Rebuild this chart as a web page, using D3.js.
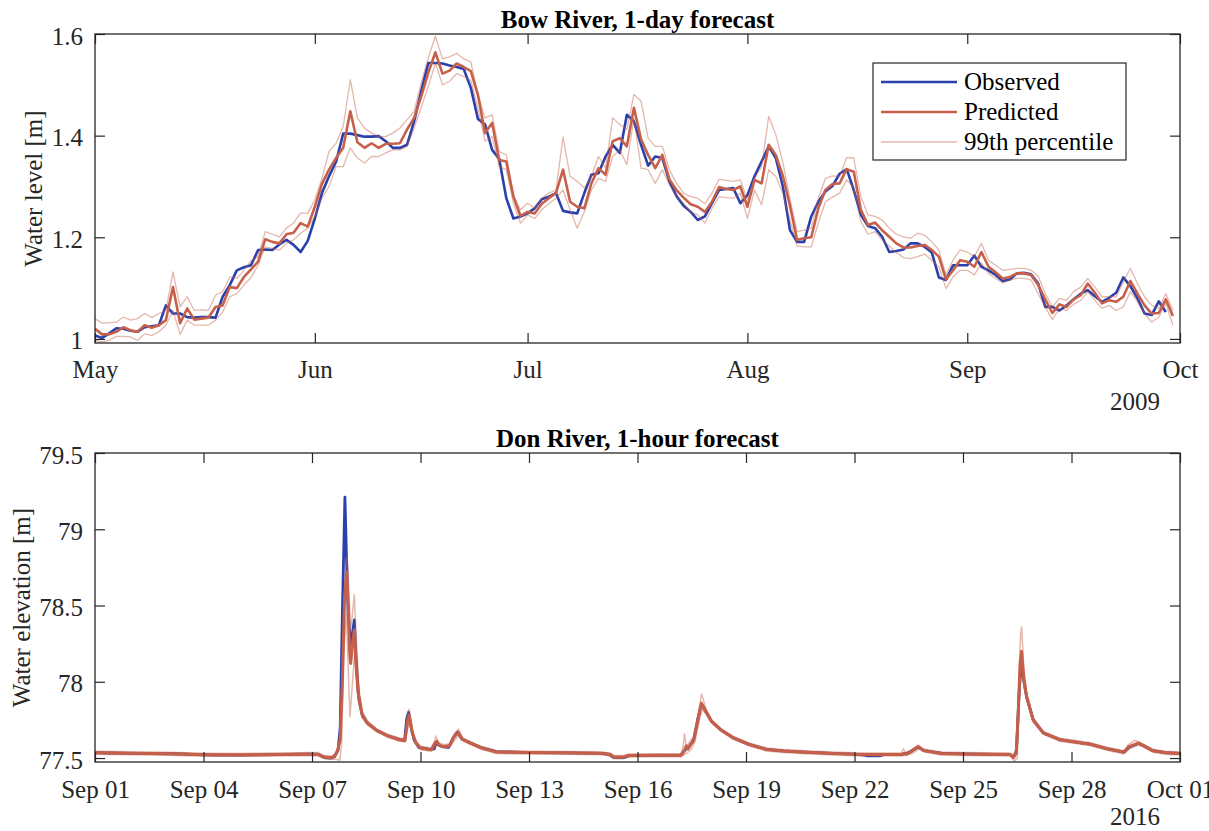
<!DOCTYPE html>
<html>
<head>
<meta charset="utf-8">
<script src="https://cdn.jsdelivr.net/npm/d3@7"></script>
<style>
  html, body { margin: 0; padding: 0; background: #ffffff; }
  svg { display: block; }
  text { font-family: "Liberation Serif", "Times New Roman", serif; }
</style>
</head>
<body>
<svg id="chart" width="1209" height="831"></svg>
<script>
// ---------- Bow River: daily water level, from 1 May 2009 ----------
const bowStart = Date.UTC(2009, 4, 1);
const bowObserved = [
  1.007, 1.002, 1.011, 1.021, 1.020, 1.016, 1.014, 1.023, 1.025, 1.027,
  1.066, 1.050, 1.050, 1.043, 1.042, 1.043, 1.043, 1.042, 1.083, 1.106,
  1.135, 1.141, 1.145, 1.175, 1.176, 1.175, 1.186, 1.195, 1.185, 1.171,
  1.193, 1.237, 1.287, 1.320, 1.349, 1.404, 1.404, 1.401, 1.398, 1.398,
  1.399, 1.389, 1.376, 1.376, 1.382, 1.428, 1.488, 1.543, 1.543, 1.542,
  1.538, 1.535, 1.531, 1.494, 1.433, 1.422, 1.372, 1.354, 1.277, 1.237,
  1.241, 1.247, 1.257, 1.275, 1.280, 1.287, 1.252, 1.249, 1.247, 1.287,
  1.323, 1.326, 1.359, 1.382, 1.366, 1.441, 1.428, 1.382, 1.341, 1.359,
  1.356, 1.310, 1.281, 1.262, 1.250, 1.234, 1.241, 1.267, 1.293, 1.295,
  1.297, 1.267, 1.283, 1.320, 1.349, 1.379, 1.356, 1.300, 1.214, 1.191,
  1.191, 1.241, 1.270, 1.290, 1.301, 1.325, 1.334, 1.293, 1.244, 1.222,
  1.218, 1.201, 1.171, 1.173, 1.176, 1.188, 1.188, 1.181, 1.170, 1.121,
  1.116, 1.145, 1.145, 1.145, 1.164, 1.142, 1.135, 1.126, 1.114, 1.117,
  1.129, 1.130, 1.127, 1.109, 1.063, 1.063, 1.056, 1.066, 1.078, 1.089,
  1.096, 1.084, 1.073, 1.081, 1.091, 1.121, 1.104, 1.080, 1.050, 1.047,
  1.074, 1.053
];
const bowPredicted = [
  1.020, 1.009, 1.009, 1.014, 1.023, 1.017, 1.014, 1.027, 1.022, 1.027,
  1.037, 1.102, 1.031, 1.060, 1.038, 1.040, 1.042, 1.063, 1.066, 1.102,
  1.100, 1.122, 1.137, 1.152, 1.196, 1.191, 1.188, 1.206, 1.209, 1.228,
  1.221, 1.260, 1.305, 1.333, 1.356, 1.376, 1.448, 1.387, 1.376, 1.385,
  1.376, 1.384, 1.384, 1.385, 1.412, 1.435, 1.477, 1.524, 1.564, 1.522,
  1.528, 1.542, 1.535, 1.527, 1.480, 1.405, 1.425, 1.352, 1.349, 1.280,
  1.242, 1.250, 1.247, 1.266, 1.277, 1.287, 1.333, 1.270, 1.260, 1.257,
  1.306, 1.336, 1.323, 1.389, 1.395, 1.379, 1.455, 1.393, 1.362, 1.336,
  1.362, 1.314, 1.293, 1.278, 1.265, 1.260, 1.250, 1.270, 1.299, 1.295,
  1.293, 1.300, 1.260, 1.313, 1.306, 1.382, 1.362, 1.321, 1.262, 1.195,
  1.198, 1.200, 1.257, 1.293, 1.305, 1.306, 1.334, 1.329, 1.254, 1.224,
  1.229, 1.214, 1.201, 1.188, 1.180, 1.180, 1.183, 1.185, 1.175, 1.162,
  1.117, 1.135, 1.155, 1.152, 1.142, 1.171, 1.142, 1.131, 1.119, 1.122,
  1.129, 1.129, 1.126, 1.106, 1.078, 1.051, 1.068, 1.063, 1.078, 1.086,
  1.109, 1.091, 1.070, 1.076, 1.073, 1.083, 1.114, 1.089, 1.066, 1.050,
  1.051, 1.078, 1.045
];
const bowUpper = [
  1.040, 1.031, 1.032, 1.033, 1.043, 1.037, 1.040, 1.050, 1.042, 1.050,
  1.056, 1.132, 1.063, 1.083, 1.056, 1.057, 1.056, 1.086, 1.093, 1.122,
  1.119, 1.135, 1.154, 1.162, 1.211, 1.206, 1.201, 1.218, 1.228, 1.248,
  1.247, 1.274, 1.316, 1.369, 1.385, 1.418, 1.510, 1.435, 1.415, 1.405,
  1.398, 1.398, 1.405, 1.415, 1.431, 1.448, 1.504, 1.553, 1.596, 1.551,
  1.555, 1.562, 1.551, 1.545, 1.481, 1.435, 1.441, 1.369, 1.362, 1.283,
  1.254, 1.267, 1.257, 1.277, 1.287, 1.293, 1.397, 1.320, 1.310, 1.297,
  1.320, 1.359, 1.336, 1.435, 1.422, 1.412, 1.481, 1.468, 1.395, 1.379,
  1.379, 1.333, 1.306, 1.287, 1.280, 1.277, 1.266, 1.287, 1.314, 1.312,
  1.310, 1.313, 1.274, 1.316, 1.339, 1.438, 1.402, 1.347, 1.275, 1.211,
  1.214, 1.218, 1.277, 1.316, 1.321, 1.320, 1.357, 1.356, 1.280, 1.244,
  1.241, 1.234, 1.218, 1.206, 1.201, 1.198, 1.208, 1.204, 1.191, 1.175,
  1.126, 1.155, 1.175, 1.171, 1.162, 1.188, 1.155, 1.145, 1.135, 1.137,
  1.139, 1.139, 1.135, 1.124, 1.089, 1.063, 1.080, 1.076, 1.093, 1.102,
  1.119, 1.102, 1.083, 1.083, 1.083, 1.112, 1.139, 1.109, 1.083, 1.066,
  1.060, 1.089, 1.056
];
const bowLower = [
  0.997, 0.994, 0.997, 1.005, 1.005, 1.004, 0.997, 1.010, 1.007, 1.014,
  1.027, 1.056, 1.009, 1.037, 1.027, 1.027, 1.027, 1.037, 1.053, 1.083,
  1.089, 1.106, 1.121, 1.145, 1.181, 1.178, 1.175, 1.188, 1.195, 1.208,
  1.218, 1.241, 1.277, 1.300, 1.339, 1.339, 1.376, 1.356, 1.346, 1.359,
  1.359, 1.366, 1.372, 1.372, 1.379, 1.415, 1.456, 1.497, 1.543, 1.500,
  1.507, 1.522, 1.516, 1.509, 1.453, 1.389, 1.398, 1.339, 1.333, 1.267,
  1.228, 1.244, 1.237, 1.254, 1.266, 1.277, 1.293, 1.254, 1.218, 1.250,
  1.293, 1.316, 1.310, 1.359, 1.372, 1.343, 1.435, 1.336, 1.333, 1.306,
  1.333, 1.303, 1.280, 1.267, 1.250, 1.244, 1.228, 1.257, 1.280, 1.278,
  1.277, 1.287, 1.237, 1.293, 1.264, 1.333, 1.320, 1.287, 1.234, 1.183,
  1.181, 1.181, 1.228, 1.270, 1.279, 1.287, 1.313, 1.297, 1.231, 1.206,
  1.211, 1.195, 1.183, 1.170, 1.160, 1.158, 1.162, 1.167, 1.155, 1.142,
  1.099, 1.122, 1.135, 1.135, 1.126, 1.149, 1.129, 1.119, 1.110, 1.116,
  1.119, 1.119, 1.116, 1.089, 1.063, 1.038, 1.060, 1.056, 1.068, 1.076,
  1.093, 1.076, 1.060, 1.066, 1.056, 1.063, 1.093, 1.073, 1.050, 1.033,
  1.043, 1.070, 1.027
];
const bowYTicks = [1, 1.2, 1.4, 1.6];
const bowXTicks = [Date.UTC(2009,4,1), Date.UTC(2009,5,1), Date.UTC(2009,6,1),
                   Date.UTC(2009,7,1), Date.UTC(2009,8,1), Date.UTC(2009,9,1)];

// ---------- Don River: hourly water elevation, September 2016 ----------
// [days since 1 Sep 2016 00:00, elevation in m]
const donStart = Date.UTC(2016, 8, 1);
const donObserved = [
  [0,77.535],[0.4,77.533],[1,77.531],[1.6,77.529],[2.2,77.528],[2.7,77.524],[3.3,77.52],[4,77.519],
  [5,77.522],[5.7,77.525],[6.15,77.526],[6.25,77.515],[6.35,77.503],[6.5,77.5],[6.62,77.508],
  [6.72,77.55],[6.78,77.7],[6.84,78.45],[6.91,79.21],[6.95,78.85],[7.0,78.45],[7.07,78.24],
  [7.12,78.32],[7.17,78.405],[7.22,78.15],[7.28,77.92],[7.38,77.79],[7.52,77.73],[7.8,77.68],
  [8.1,77.645],[8.45,77.62],[8.56,77.615],[8.62,77.76],[8.67,77.80],[8.74,77.7],[8.82,77.62],
  [8.95,77.57],[9.25,77.556],[9.38,77.56],[9.43,77.6],[9.5,77.585],[9.6,77.575],[9.78,77.57],
  [9.9,77.63],[10.03,77.67],[10.14,77.625],[10.4,77.597],[10.7,77.566],[11.1,77.542],[12,77.536],
  [13,77.534],[14,77.531],[14.22,77.524],[14.32,77.505],[14.62,77.503],[14.78,77.516],[15.5,77.518],
  [16.2,77.519],[16.3,77.55],[16.42,77.57],[16.55,77.62],[16.68,77.77],[16.77,77.855],[16.9,77.8],
  [17.05,77.74],[17.3,77.686],[17.65,77.632],[18.1,77.588],[18.57,77.557],[19.03,77.547],[19.5,77.54],
  [20.4,77.531],[21,77.525],[21.25,77.52],[21.35,77.514],[21.7,77.514],[21.8,77.522],[22.3,77.522],
  [22.5,77.536],[22.76,77.572],[22.92,77.548],[23.4,77.532],[24,77.527],[25.3,77.522],[25.4,77.505],
  [25.48,77.55],[25.54,77.88],[25.61,78.15],[25.67,78.02],[25.76,77.90],[25.94,77.75],[26.22,77.665],
  [26.68,77.62],[27.3,77.598],[27.5,77.592],[28.0,77.56],[28.45,77.538],[28.6,77.572],[28.85,77.596],
  [29.0,77.58],[29.25,77.548],[29.6,77.535],[30,77.531]
];
const donPredicted = [
  [0,77.535],[0.5,77.533],[1,77.531],[2,77.528],[2.5,77.526],[3,77.522],[4,77.521],[5,77.523],
  [6,77.526],[6.2,77.522],[6.3,77.506],[6.55,77.502],[6.65,77.52],[6.72,77.56],[6.78,77.62],
  [6.84,78.0],[6.9,78.55],[6.96,78.72],[7.0,78.5],[7.04,78.2],[7.07,78.12],[7.12,78.25],[7.17,78.34],
  [7.22,78.1],[7.3,77.88],[7.4,77.77],[7.55,77.725],[7.8,77.68],[8.1,77.645],[8.4,77.62],[8.57,77.615],
  [8.64,77.74],[8.69,77.78],[8.77,77.67],[8.87,77.6],[9.0,77.565],[9.3,77.555],[9.4,77.6],[9.45,77.61],
  [9.52,77.585],[9.65,77.575],[9.8,77.58],[9.93,77.64],[10.05,77.665],[10.17,77.62],[10.41,77.595],
  [10.7,77.565],[11.1,77.54],[12,77.536],[13,77.534],[14,77.531],[14.25,77.523],[14.35,77.506],
  [14.6,77.506],[14.75,77.517],[15.5,77.518],[16.2,77.518],[16.28,77.54],[16.35,77.58],[16.4,77.56],
  [16.47,77.59],[16.55,77.61],[16.68,77.76],[16.77,77.86],[16.9,77.80],[17.05,77.74],[17.3,77.686],
  [17.65,77.632],[18.1,77.588],[18.57,77.556],[19.03,77.546],[19.5,77.54],[20.4,77.53],[21,77.525],
  [21.3,77.523],[21.7,77.523],[22.3,77.523],[22.35,77.53],[22.45,77.525],[22.55,77.54],[22.76,77.575],
  [22.9,77.55],[23.4,77.53],[24,77.527],[25.3,77.523],[25.4,77.505],[25.47,77.53],[25.53,77.8],
  [25.58,78.12],[25.62,78.2],[25.68,78.02],[25.76,77.90],[25.94,77.75],[26.22,77.665],[26.68,77.62],
  [27.3,77.598],[27.5,77.592],[28.0,77.56],[28.45,77.538],[28.58,77.575],[28.7,77.585],[28.85,77.598],
  [29.0,77.58],[29.25,77.548],[29.6,77.535],[30,77.53]
];
const donUpper = [
  [0,77.545],[1,77.541],[2,77.538],[3,77.532],[4,77.53],[5,77.533],[6.15,77.536],[6.35,77.516],
  [6.55,77.512],[6.68,77.54],[6.75,77.6],[6.82,77.95],[6.89,78.6],[6.97,78.82],[7.02,78.6],[7.07,78.35],
  [7.12,78.45],[7.17,78.57],[7.23,78.25],[7.3,77.95],[7.4,77.8],[7.55,77.74],[7.8,77.69],[8.1,77.655],
  [8.45,77.63],[8.57,77.628],[8.64,77.79],[8.69,77.82],[8.77,77.69],[8.87,77.615],[9.0,77.577],
  [9.3,77.566],[9.38,77.6],[9.42,77.645],[9.5,77.6],[9.65,77.588],[9.8,77.592],[9.93,77.66],[10.05,77.69],
  [10.17,77.632],[10.41,77.605],[10.7,77.575],[11.1,77.55],[12,77.545],[13,77.543],[14,77.54],
  [14.25,77.533],[14.35,77.516],[14.6,77.516],[14.75,77.527],[15.5,77.528],[16.2,77.528],[16.26,77.57],
  [16.3,77.66],[16.35,77.57],[16.42,77.6],[16.47,77.62],[16.55,77.63],[16.68,77.79],[16.77,77.92],
  [16.9,77.82],[17.05,77.75],[17.3,77.695],[17.65,77.642],[18.1,77.598],[18.57,77.566],[19.03,77.556],
  [19.5,77.55],[20.4,77.54],[21,77.535],[22.3,77.533],[22.35,77.56],[22.42,77.535],[22.55,77.55],
  [22.76,77.585],[22.9,77.56],[23.4,77.54],[24,77.537],[25.3,77.533],[25.4,77.516],[25.47,77.56],
  [25.53,77.95],[25.59,78.3],[25.62,78.36],[25.68,78.1],[25.76,77.93],[25.94,77.765],[26.22,77.675],
  [26.68,77.63],[27.3,77.608],[27.5,77.602],[28.0,77.57],[28.45,77.548],[28.58,77.59],[28.75,77.615],
  [28.85,77.608],[29.0,77.59],[29.25,77.558],[29.6,77.545],[30,77.54]
];
const donLower = [
  [0,77.525],[1,77.521],[2,77.518],[3,77.512],[4,77.511],[5,77.513],[6.15,77.516],[6.35,77.496],
  [6.55,77.492],[6.7,77.49],[6.77,77.485],[6.82,77.6],[6.88,78.2],[6.95,78.45],[7.0,78.1],[7.05,77.77],
  [7.12,78.0],[7.18,78.2],[7.24,77.95],[7.32,77.83],[7.42,77.76],[7.55,77.715],[7.8,77.67],[8.1,77.635],
  [8.45,77.61],[8.57,77.605],[8.66,77.71],[8.7,77.75],[8.78,77.65],[8.88,77.59],[9.0,77.555],[9.3,77.545],
  [9.45,77.585],[9.52,77.575],[9.65,77.565],[9.8,77.568],[9.95,77.62],[10.07,77.645],[10.2,77.61],
  [10.41,77.585],[10.7,77.555],[11.1,77.53],[12,77.526],[13,77.524],[14,77.521],[14.25,77.513],
  [14.35,77.496],[14.6,77.496],[14.75,77.507],[15.5,77.508],[16.2,77.508],[16.35,77.53],[16.5,77.56],
  [16.6,77.62],[16.72,77.76],[16.8,77.82],[16.92,77.78],[17.05,77.73],[17.3,77.676],[17.65,77.622],
  [18.1,77.578],[18.57,77.546],[19.03,77.536],[19.5,77.53],[20.4,77.52],[21,77.515],[22.3,77.513],
  [22.6,77.53],[22.8,77.562],[22.95,77.54],[23.4,77.52],[24,77.517],[25.3,77.513],[25.42,77.48],
  [25.5,77.5],[25.56,77.9],[25.62,78.1],[25.7,77.95],[25.78,77.88],[25.94,77.735],[26.22,77.655],
  [26.68,77.61],[27.3,77.588],[27.5,77.582],[28.0,77.55],[28.45,77.528],[28.6,77.56],[28.85,77.585],
  [29.0,77.57],[29.25,77.538],[29.6,77.525],[30,77.52]
];
const donYTicks = [77.5, 78, 78.5, 79, 79.5];
const donXTickDays = [0, 3, 6, 9, 12, 15, 18, 21, 24, 27, 30];

const legendLabels = ["Observed", "Predicted", "99th percentile"];

// ---------- drawing ----------
const COL_OBS = "#2a40ad";
const COL_PRED = "#c6604a";
const COL_AXIS = "#262626";
const FONT = 25;
const DAY = 86400000;

const svg = d3.select("#chart");
svg.append("rect").attr("width", 1209).attr("height", 831).attr("fill", "#fff");

function panel(opts) {
  const { left, right, top, bottom, yDomain, xDomain, yTicks, xTicks, xFormat,
          yFormat, title, titleY, yLabel, yLabelX, xLabelY, yearText, yearY, id } = opts;
  const x = d3.scaleUtc().domain(xDomain).range([left, right]);
  const y = d3.scaleLinear().domain(yDomain).range([bottom, top]);
  const g = svg.append("g");

  g.append("clipPath").attr("id", id).append("rect")
    .attr("x", left).attr("y", top).attr("width", right - left).attr("height", bottom - top);

  const plot = g.append("g").attr("clip-path", `url(#${id})`);

  // axes with inward ticks on all four sides
  const bx = g.append("g").attr("transform", `translate(0,${bottom})`)
    .call(d3.axisBottom(x).tickValues(xTicks).tickSizeInner(-10).tickSizeOuter(0).tickFormat(xFormat));
  bx.selectAll("text").attr("y", xLabelY - bottom).attr("dy", 0)
    .attr("font-size", FONT).attr("fill", COL_AXIS).attr("font-family", "Liberation Serif");
  g.append("g").attr("transform", `translate(0,${top})`)
    .call(d3.axisTop(x).tickValues(xTicks).tickSizeInner(-10).tickSizeOuter(0).tickFormat(""));
  const ly = g.append("g").attr("transform", `translate(${left},0)`)
    .call(d3.axisLeft(y).tickValues(yTicks).tickSizeInner(-10).tickSizeOuter(0).tickFormat(yFormat));
  ly.selectAll("text").attr("x", -12).attr("dy", "0.4em")
    .attr("font-size", FONT).attr("fill", COL_AXIS).attr("font-family", "Liberation Serif");
  g.append("g").attr("transform", `translate(${right},0)`)
    .call(d3.axisRight(y).tickValues(yTicks).tickSizeInner(-10).tickSizeOuter(0).tickFormat(""));
  g.selectAll(".domain").remove();
  g.selectAll(".tick line").attr("stroke", COL_AXIS).attr("stroke-width", 1.2);

  g.append("rect").attr("x", left).attr("y", top)
    .attr("width", right - left).attr("height", bottom - top)
    .attr("fill", "none").attr("stroke", COL_AXIS).attr("stroke-width", 1.3);

  g.append("text").attr("x", (left + right) / 2).attr("y", titleY)
    .attr("text-anchor", "middle").attr("font-weight", "bold")
    .attr("font-size", FONT).attr("fill", "#000").text(title);

  g.append("text")
    .attr("transform", `translate(${yLabelX},${(top + bottom) / 2}) rotate(-90)`)
    .attr("text-anchor", "middle").attr("font-size", FONT).attr("fill", COL_AXIS).text(yLabel);

  g.append("text").attr("x", right - 20).attr("y", yearY)
    .attr("text-anchor", "end").attr("font-size", FONT).attr("fill", COL_AXIS).text(yearText);

  return { x, y, plot };
}

// Bow River panel
const bow = panel({
  id: "clipBow", left: 95, right: 1180, top: 34, bottom: 343,
  yDomain: [0.992, 1.6], xDomain: [bowXTicks[0], bowXTicks[bowXTicks.length - 1]],
  yTicks: bowYTicks, xTicks: bowXTicks, xFormat: d3.utcFormat("%b"), yFormat: d3.format("~g"),
  title: "Bow River, 1-day forecast", titleY: 28, yLabel: "Water level [m]", yLabelX: 42,
  xLabelY: 378, yearText: "2009", yearY: 410
});
const bowLine = d3.line().x((d, i) => bow.x(bowStart + i * DAY)).y(d => bow.y(d));
bow.plot.append("path").attr("d", bowLine(bowObserved))
  .attr("fill", "none").attr("stroke", COL_OBS).attr("stroke-width", 2.6).attr("stroke-linejoin", "round");
bow.plot.append("path").attr("d", bowLine(bowPredicted))
  .attr("fill", "none").attr("stroke", COL_PRED).attr("stroke-width", 2.6).attr("stroke-linejoin", "round");
[bowUpper, bowLower].forEach(s => {
  bow.plot.append("path").attr("d", bowLine(s))
    .attr("fill", "none").attr("stroke", COL_PRED).attr("stroke-opacity", 0.45)
    .attr("stroke-width", 1.3).attr("stroke-linejoin", "round");
});

// Legend
const lg = svg.append("g");
lg.append("rect").attr("x", 873).attr("y", 63).attr("width", 253).attr("height", 97)
  .attr("fill", "#fff").attr("stroke", COL_AXIS).attr("stroke-width", 1.2);
const legendStyles = [
  { stroke: COL_OBS, w: 2.6, o: 1 },
  { stroke: COL_PRED, w: 2.6, o: 1 },
  { stroke: COL_PRED, w: 1.3, o: 0.45 }
];
legendLabels.forEach((lab, i) => {
  const yy = 82 + i * 30;
  lg.append("line").attr("x1", 881).attr("x2", 957).attr("y1", yy).attr("y2", yy)
    .attr("stroke", legendStyles[i].stroke).attr("stroke-width", legendStyles[i].w)
    .attr("stroke-opacity", legendStyles[i].o);
  lg.append("text").attr("x", 964).attr("y", yy).attr("dy", "0.33em")
    .attr("font-size", FONT).attr("fill", "#000").text(lab);
});

// Don River panel
const donTicks = donXTickDays.map(d => donStart + d * DAY);
const don = panel({
  id: "clipDon", left: 95, right: 1180, top: 453, bottom: 762,
  yDomain: [77.474, 79.5], xDomain: [donTicks[0], donTicks[donTicks.length - 1]],
  yTicks: donYTicks, xTicks: donTicks, xFormat: d3.utcFormat("%b %d"), yFormat: d3.format("~g"),
  title: "Don River, 1-hour forecast", titleY: 447, yLabel: "Water elevation [m]", yLabelX: 30,
  xLabelY: 798, yearText: "2016", yearY: 825
});
const donLine = d3.line().x(d => don.x(donStart + d[0] * DAY)).y(d => don.y(d[1]));
don.plot.append("path").attr("d", donLine(donObserved))
  .attr("fill", "none").attr("stroke", COL_OBS).attr("stroke-width", 2.8).attr("stroke-linejoin", "round");
don.plot.append("path").attr("d", donLine(donPredicted))
  .attr("fill", "none").attr("stroke", COL_PRED).attr("stroke-width", 3).attr("stroke-linejoin", "round");
[donUpper, donLower].forEach(s => {
  don.plot.append("path").attr("d", donLine(s))
    .attr("fill", "none").attr("stroke", COL_PRED).attr("stroke-opacity", 0.45)
    .attr("stroke-width", 1.5).attr("stroke-linejoin", "round");
});
</script>
</body>
</html>
